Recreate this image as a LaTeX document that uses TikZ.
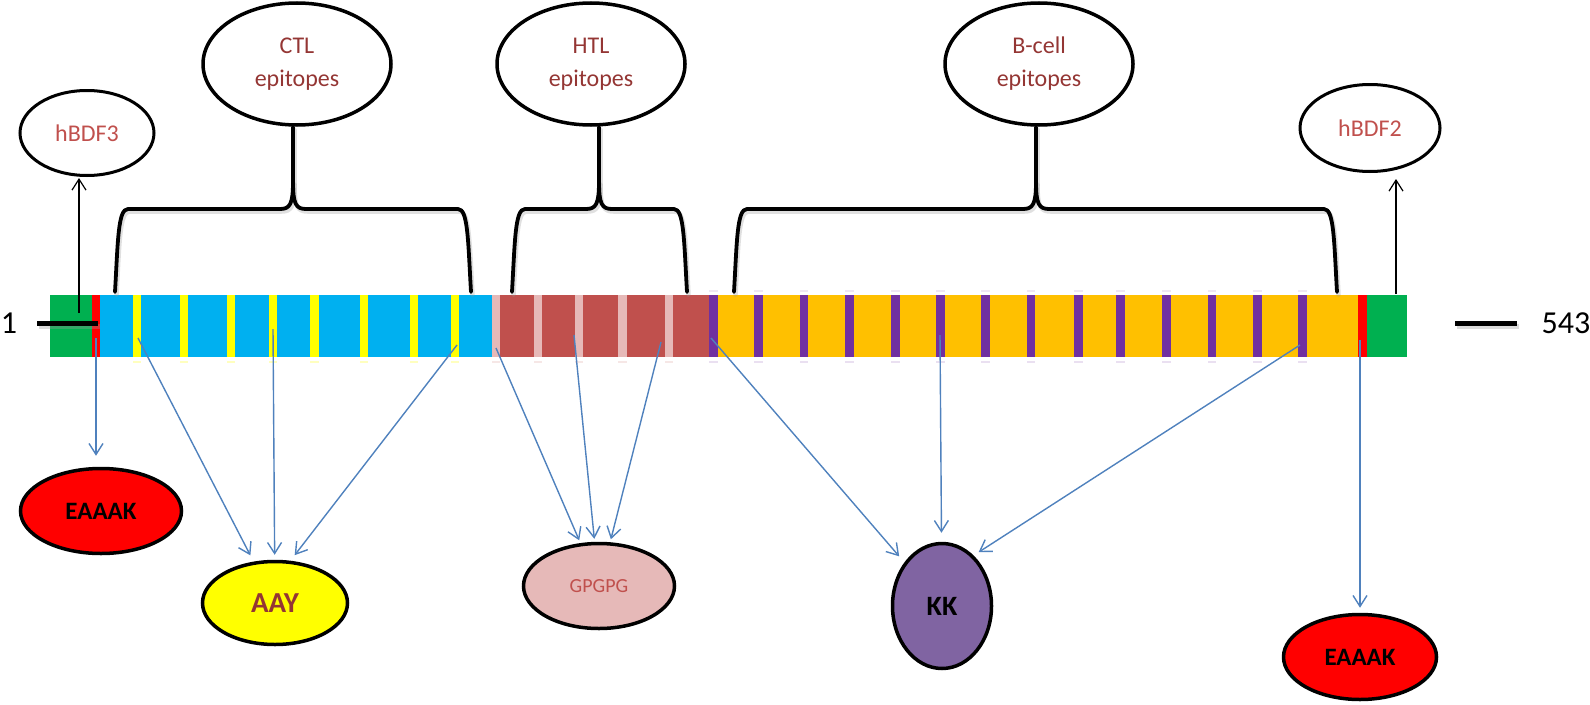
\documentclass[tikz,border=0pt]{standalone}
\usepackage{fontspec}
\setmainfont{Carlito}
\usetikzlibrary{arrows.meta,shapes.geometric}
\definecolor{cgreen}{HTML}{00B050}
\definecolor{cred}{HTML}{FF0000}
\definecolor{cblue}{HTML}{00B0F0}
\definecolor{cyel}{HTML}{FFFF00}
\definecolor{cbrown}{HTML}{C0504D}
\definecolor{cpink}{HTML}{E6B9B8}
\definecolor{corange}{HTML}{FFC000}
\definecolor{cpurple}{HTML}{7030A0}
\definecolor{kkpurple}{HTML}{8064A2}
\definecolor{arrblue}{HTML}{4F81BD}
\definecolor{tdark}{HTML}{943634}
\definecolor{tred}{HTML}{C0504D}
\newcommand\epibrace[3]{%
  \foreach \sh/\sty in {1/braceshadow,0/bracepath}{%
  \begin{scope}[shift={(1.5*\sh,2.5*\sh)}]
  \draw[\sty] (#1,292) .. controls ({#1+3},240) and ({#1+3},209) .. ({#1+13},209)
     -- ({#2-13},209) .. controls ({#2-3},209) and (#2,204) .. (#2,182) -- (#2,127);
  \draw[\sty] (#3,292) .. controls ({#3-3},240) and ({#3-3},209) .. ({#3-13},209)
     -- ({#2+13},209) .. controls ({#2+3},209) and (#2,204) .. (#2,182);
  \end{scope}}}
\begin{document}
\begin{tikzpicture}[x=1pt,y=-1pt,
  lbl/.style={ellipse,draw=black,line width=3.5pt,inner sep=0pt,align=center},
  toplbl/.style={lbl,minimum width=188pt,minimum height=122pt,text=tdark,font=\fontsize{24}{33}\selectfont},
  bracepath/.style={draw=black,line width=3.8pt,line cap=round,line join=round},
  braceshadow/.style={draw=black!40,line width=4.5pt,opacity=0.3,line cap=round},
  bluearr/.style={draw=arrblue,line width=1.4pt,-{Straight Barb[length=11pt,width=14pt]}},
  blackarr/.style={draw=black,line width=1.2pt,-{Straight Barb[length=11pt,width=14pt]}},
  numlbl/.style={inner sep=0pt,font=\fontsize{32}{36}\selectfont},
]
\useasboundingbox (0,0) rectangle (1590,704);

% ---------- bar ----------
\fill[cgreen] (50,295) rectangle (92,357);
\fill[cred] (92,295) rectangle (100,357);
\fill[cblue] (100,295) rectangle (492,357);
\foreach \a/\b in {133/141,180/188,227/235,269/277,310/319,360/368,410/418,451/459}{
  \fill[cyel] (\a,295) rectangle (\b,357);
  \fill[cyel,opacity=0.25] (\a,361) rectangle (\b,363);}
\fill[cbrown] (492,295) rectangle (709,357);
\foreach \a/\b in {492/500,534/542,575/583,618/627,665/673}{
  \fill[cpink] (\a,295) rectangle (\b,357);
  \fill[cpink,opacity=0.35] (\a,361) rectangle (\b,363);}
\fill[corange] (709,295) rectangle (1358,357);
\foreach \a/\b in {709/718,754/763,800/808,845/854,891/900,936/945,981/990,1027/1035,1074/1083,1116/1125,1162/1171,1208/1216,1253/1262,1298/1307}{
  \fill[cpurple] (\a,295) rectangle (\b,357);
  \fill[cpurple,opacity=0.15] (\a,361) rectangle (\b,363);
  \fill[cpurple,opacity=0.12] (\a,290) rectangle (\b,292);}
\fill[cred] (1358,295) rectangle (1367,357);
\fill[cgreen] (1367,295) rectangle (1407,357);

% ---------- end markers ----------
\node[numlbl] (n1) at (9,323) {1};
\node[numlbl] (n543) at (1566,323) {543};
\draw[black!40,opacity=0.35,line width=5pt] (39,326) -- (100,326);
\draw[line width=5pt] (37,323) -- (98,323);
\draw[black!40,opacity=0.35,line width=5pt] (1457,326) -- (1519,326);
\draw[line width=5pt] (1455,323) -- (1517,323);

% ---------- top labels ----------
\node[toplbl] (ctl) at (297,64) {CTL\\epitopes};
\node[toplbl] (htl) at (591,64) {HTL\\epitopes};
\node[toplbl] (bcell) at (1039,64) {B-cell\\epitopes};
\node[lbl,line width=3pt,minimum width=134pt,minimum height=85pt,text=tred,font=\fontsize{24}{28}\selectfont] (hbdf3) at (87,133) {hBDF3};
\node[lbl,line width=3pt,minimum width=140pt,minimum height=87pt,text=tred,font=\fontsize{24}{28}\selectfont] (hbdf2) at (1370,128) {hBDF2};

% ---------- braces ----------
\epibrace{115}{293}{471}
\epibrace{512}{599}{687}
\epibrace{734}{1036}{1337}

% ---------- bottom labels ----------
\node[lbl,fill=cred,minimum width=161pt,minimum height=85pt,font=\bfseries\fontsize{25}{30}\selectfont] (ea1) at (101,511) {EAAAK};
\node[lbl,fill=cyel,minimum width=145pt,minimum height=83pt,text=tdark,font=\bfseries\fontsize{29}{34}\selectfont] (aay) at (275,603) {AAY};
\node[lbl,fill=cpink,minimum width=151pt,minimum height=85pt,text=tred,font=\fontsize{20}{24}\selectfont] (gp) at (599,586) {GPGPG};
\node[lbl,fill=kkpurple,minimum width=99pt,minimum height=125pt,font=\bfseries\fontsize{28}{32}\selectfont] (kk) at (942,606) {KK};
\node[lbl,fill=cred,minimum width=153pt,minimum height=85pt,font=\bfseries\fontsize{25}{30}\selectfont] (ea2) at (1360,657) {EAAAK};

% ---------- arrow starts ----------
\coordinate (h3s) at (79,313);
\coordinate (h2s) at (1396,294);
\coordinate (e1s) at (96,338);
\coordinate (a1) at (138,338);
\coordinate (a2) at (273,329);
\coordinate (a3) at (457,345);
\coordinate (g1) at (496,348);
\coordinate (g2) at (574,335);
\coordinate (g3) at (661,342);
\coordinate (k1) at (711,338);
\coordinate (k2) at (940,335);
\coordinate (k3) at (1300,345);
\coordinate (e2s) at (1360,340);

% ---------- arrows ----------
\draw[blackarr,shorten >=1pt] (h3s) -- (h3s |- hbdf3.south);
\draw[blackarr,shorten >=6pt] (h2s) -- (h2s |- hbdf2.south);
\draw[bluearr,shorten >=11pt] (e1s) -- (e1s |- ea1.north);
\draw[bluearr,shorten >=7pt] (a1) -- (aay);
\draw[bluearr,shorten >=5pt] (a2) -- (aay);
\draw[bluearr,shorten >=7pt] (a3) -- (aay.70);
\draw[bluearr,shorten >=3pt] (g1) -- (gp);
\draw[bluearr,shorten >=3pt] (g2) -- (gp);
\draw[bluearr,shorten >=3pt] (g3) -- (gp);
\draw[bluearr,shorten >=8pt] (k1) -- (kk);
\draw[bluearr,shorten >=9pt] (k2) -- (kk);
\draw[bluearr,shorten >=6pt] (k3) -- (kk.58);
\draw[bluearr,shorten >=5pt] (e2s) -- (e2s |- ea2.north);
\end{tikzpicture}
\end{document}
